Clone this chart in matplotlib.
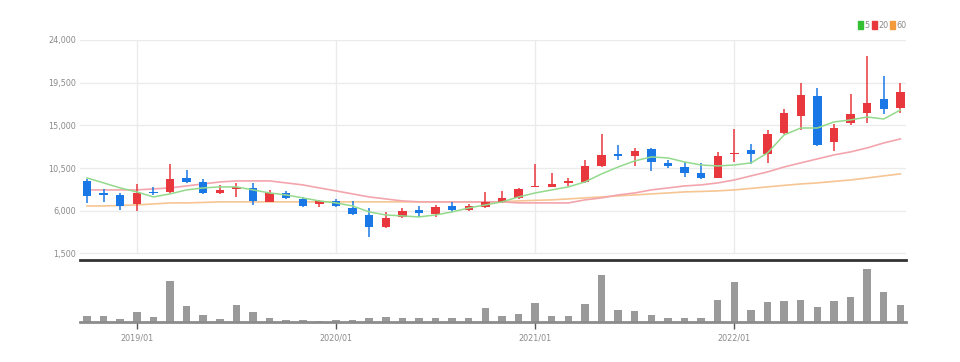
import matplotlib
matplotlib.use("Agg")
import matplotlib.pyplot as plt
import matplotlib.font_manager as fm
import numpy as np

# ---- data (monthly candles 2018/10 .. 2022/11) ----
months = [f"{2018 + (9 + k) // 12}/{(9 + k) % 12 + 1:02d}" for k in range(50)]

opens = [9140, 7870, 7660, 6710, 7980, 7980, 9450, 9030, 7870, 8300,
         8400, 6930, 7870, 7240, 6710, 7030, 6290, 5550, 4290, 5340,
         6080, 5660, 6500, 6080, 6400, 6930, 7350, 8510, 8510, 8930,
         9030, 10720, 11980, 11770, 12510, 11040, 10610, 9980, 9450, 11980,
         12410, 11980, 14200, 15990, 18100, 13250, 15250, 16310, 17780, 16830]
highs = [9350, 8300, 7870, 8820, 8510, 10930, 10300, 9350, 8720, 8930,
         8930, 8190, 8090, 7450, 7140, 7240, 7030, 6290, 5870, 6290,
         6500, 6610, 6930, 6710, 7980, 8090, 8400, 10930, 9980, 9450,
         11350, 14090, 12930, 12620, 12620, 11350, 11140, 11040, 12200, 14620,
         13040, 14510, 16730, 19470, 18940, 15150, 18310, 22310, 20210, 19470]
lows = [6820, 6930, 6080, 5980, 7660, 7900, 8930, 7770, 7770, 7450,
        6610, 6900, 7240, 6400, 6400, 6400, 5550, 3240, 4190, 5240,
        5340, 5340, 5870, 5980, 6290, 6820, 7240, 8450, 8450, 8610,
        8930, 10610, 11350, 10720, 10190, 10510, 9560, 9350, 9400, 11140,
        10930, 11040, 14090, 14510, 12830, 12300, 15040, 15250, 16200, 16310]
closes = [7560, 7660, 6500, 7870, 7870, 9350, 9030, 7870, 8190, 8510,
          7030, 7870, 7350, 6500, 7030, 6500, 5660, 4290, 5240, 5980,
          5770, 6400, 6080, 6500, 6930, 7350, 8300, 8610, 8820, 9140,
          10720, 11880, 11770, 12300, 11140, 10720, 9980, 9450, 11770, 12090,
          11980, 14090, 16310, 18200, 12930, 14730, 16200, 17360, 16730, 18520]
volumes = [570, 570, 340, 1000, 500, 4100, 1570, 670, 340, 1670,
           970, 400, 240, 240, 140, 240, 240, 400, 540, 400,
           400, 370, 400, 400, 1400, 570, 840, 1900, 570, 570,
           1840, 4670, 1240, 1070, 740, 400, 400, 440, 2240, 4000,
           1170, 2000, 2070, 2170, 1500, 2070, 2540, 5340, 3000, 1670]

ma5 = [9455, 8930, 8400, 7980, 7450, 7770, 8190, 8400, 8510, 8510,
       8190, 7870, 7660, 7350, 7030, 6820, 6500, 5870, 5550, 5450,
       5340, 5550, 5870, 6290, 6610, 6930, 7450, 7870, 8190, 8510,
       9030, 9880, 10610, 11250, 11670, 11560, 11140, 10820, 10720, 10820,
       11040, 12090, 13990, 14720, 14720, 15360, 15570, 15880, 15670, 16620]
ma20 = [8190, 8190, 8190, 8190, 8300, 8400, 8610, 8820, 9030, 9140,
        9140, 9140, 8930, 8720, 8400, 8090, 7770, 7450, 7240, 7030,
        6930, 6930, 6930, 6930, 6930, 6930, 6820, 6820, 6820, 6820,
        7140, 7350, 7660, 7870, 8190, 8400, 8610, 8720, 8930, 9240,
        9670, 10090, 10610, 11040, 11460, 11880, 12200, 12620, 13140, 13570]
ma60 = [6500, 6500, 6550, 6610, 6710, 6820, 6820, 6870, 6930, 6930,
        6930, 6930, 6930, 6930, 6930, 6930, 6930, 6930, 6930, 6930,
        6930, 6930, 6930, 6930, 6930, 6930, 7030, 7090, 7140, 7240,
        7350, 7450, 7560, 7660, 7770, 7870, 7980, 8030, 8090, 8190,
        8350, 8510, 8670, 8820, 8930, 9090, 9240, 9450, 9670, 9880]

price_ticks = [1500, 6000, 10500, 15000, 19500, 24000]
year_ticks = ["2019/01", "2020/01", "2021/01", "2022/01"]
legend_labels = ["5", "20", "60"]

RED = "#e8383d"
BLUE = "#1a78e6"
C5 = "#93da8c"
C20 = "#f3a5ad"
C60 = "#f6c593"
GRID = "#ebebeb"
TXT = "#8a8a8a"

# pick a narrow font if one is installed
_fonts = fm.fontManager.ttflist
_names = {f.name for f in _fonts}
font_kw = {}
if 'Liberation Sans Narrow' in _names:
    font_kw = dict(family=['Liberation Sans Narrow', 'DejaVu Sans'], size=7.5)
elif any(f.name == 'DejaVu Sans' and 'condensed' in str(f.stretch) for f in _fonts):
    font_kw = dict(family=['DejaVu Sans'], stretch='condensed', size=6.5)
else:
    font_kw = dict(family=['Liberation Sans', 'DejaVu Sans'], size=7)

fig = plt.figure(figsize=(9.6, 3.62), dpi=100)
W, H = 960, 362
L, R = 80, 906
ax = fig.add_axes([L / W, 1 - 260 / H, (R - L) / W, 220 / H])
axv = fig.add_axes([L / W, 1 - 322 / H, (R - L) / W, 60 / H])

x = np.arange(len(months))
year_idx = [months.index(t) for t in year_ticks]

# grid
for p in price_ticks:
    ax.axhline(p, color=GRID, lw=1, zorder=0)
for yi in year_idx:
    ax.vlines(yi, price_ticks[0], price_ticks[-1], color=GRID, lw=1, zorder=0)

# candles
o = np.array(opens); c = np.array(closes); h = np.array(highs); lo = np.array(lows)
up = c >= o
cols = np.where(up, RED, BLUE)
ax.vlines(x, lo, h, color=cols, lw=1.1, zorder=2)
bottoms = np.minimum(o, c)
heights = np.maximum(np.abs(c - o), 120)
ax.bar(x, heights, bottom=bottoms, width=0.5, color=cols, zorder=3, linewidth=0)

# moving averages
ax.plot(x, ma60, color=C60, lw=1.2, zorder=1)
ax.plot(x, ma20, color=C20, lw=1.2, zorder=1)
ax.plot(x, ma5, color=C5, lw=1.1, zorder=4)

ax.set_xlim(-0.42, 49.34)
ax.set_ylim(800, 24000)
ax.set_yticks(price_ticks)
ax.set_yticklabels([f"{p:,}" for p in price_ticks], color=TXT, **font_kw)
ax.tick_params(axis='y', length=0, pad=3)
ax.set_xticks([])
for s in ['top', 'right', 'left']:
    ax.spines[s].set_visible(False)
ax.spines['bottom'].set_color('#333333')
ax.spines['bottom'].set_linewidth(2)

# volume
axv.bar(x, volumes, width=0.45, color="#9a9a9a", zorder=2, linewidth=0)
axv.set_xlim(-0.42, 49.34)
axv.set_ylim(0, 6000)
axv.set_yticks([])
axv.set_xticks(year_idx)
axv.set_xticklabels(year_ticks, color=TXT, **font_kw)
axv.tick_params(axis='x', length=5, width=1, color='#555555', pad=3)
for s in ['top', 'right', 'left']:
    axv.spines[s].set_visible(False)
axv.spines['bottom'].set_color('#8c8c8c')
axv.spines['bottom'].set_linewidth(2)

# legend (top right)
lx = 858 / W
ly = 1 - 25 / H
for lab, col in zip(legend_labels, ["#33c133", RED, "#f39a3c"]):
    fig.patches.append(matplotlib.patches.Rectangle((lx, ly - 4 / H), 5 / W, 8 / H,
                                                     transform=fig.transFigure, color=col))
    t = fig.text(lx + 6 / W, ly, lab, color=TXT, va='center', ha='left', **font_kw)
    lx += (6 + 4 * len(lab) + 4) / W

fig.savefig("out.png", dpi=100)
